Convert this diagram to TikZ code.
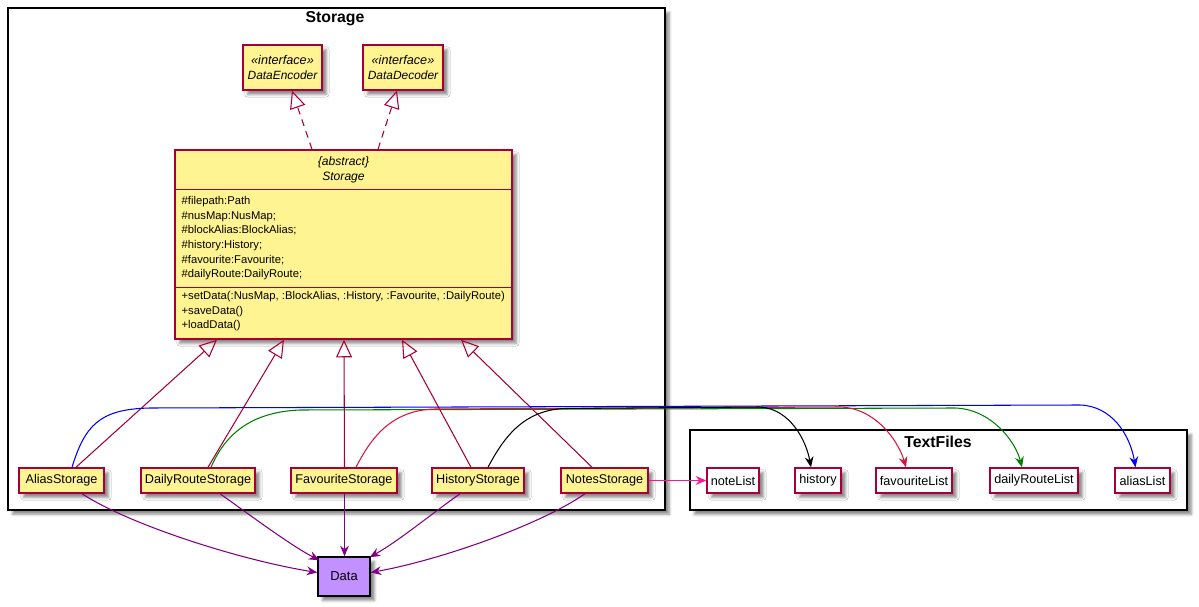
\documentclass[tikz,border=0pt]{standalone}
\usepackage{fontspec}
\setmainfont{Liberation Sans}
\usetikzlibrary{arrows.meta,calc,shadows.blur}

\definecolor{umlred}{HTML}{A80036}
\definecolor{umlyellow}{RGB}{255,244,145}
\definecolor{umlpurple}{HTML}{800080}
\definecolor{datafill}{RGB}{195,145,255}
\definecolor{notepink}{HTML}{FF1493}
\definecolor{favred}{HTML}{DC143C}
\definecolor{routegreen}{HTML}{008000}

\begin{document}
\begin{tikzpicture}[x=0.02cm, y=-0.02cm,
    umlshadow/.style={blur shadow={shadow xshift=2.5pt, shadow yshift=-2.5pt, shadow blur radius=1.5pt, shadow blur steps=4, shadow opacity=45}},
    classbox/.style={draw=umlred, line width=0.85pt, fill=umlyellow, umlshadow, inner sep=0pt, font=\fontsize{7.2}{8.4}\selectfont},
    filebox/.style={classbox, fill=white},
    ifacebox/.style={classbox, align=center, font=\fontsize{6.8}{8.6}\selectfont\itshape},
    membertext/.style={anchor=north west, inner sep=0pt, align=left, font=\fontsize{6.4}{8.3}\selectfont},
    frame/.style={draw=black, line width=0.9pt, fill=white, umlshadow},
    frametitle/.style={font=\fontsize{9}{10}\selectfont\bfseries},
    extends/.style={draw=umlred, line width=0.6pt, -{Triangle[open, length=10pt, width=9pt]}},
    implements/.style={extends, dash pattern=on 4pt off 3pt},
    uses/.style={draw=umlpurple, line width=0.6pt, -{Stealth[length=6pt, width=5pt, inset=2pt]}},
    writes/.style={line width=0.6pt, -{Stealth[length=6pt, width=5pt, inset=2pt]}},
]
\useasboundingbox (0,0) rectangle (1199,607);

% Packages
\node[frame, minimum width=13.14cm, minimum height=10.04cm] (storagepkg) at (336.5,259) {};
\node[frametitle] (storagetitle) at (335,19) {Storage};
\node[frame, minimum width=9.94cm, minimum height=1.6cm] (textpkg) at (938.5,470) {};
\node[frametitle] (texttitle) at (938,442) {TextFiles};

% Interfaces
\node[ifacebox, minimum width=1.58cm, minimum height=0.9cm] (encoder) at (282.5,67.5) {{\fontsize{7.2}{8}\selectfont «interface»}\\DataEncoder};
\node[ifacebox, minimum width=1.6cm, minimum height=0.9cm] (decoder) at (403,67.5) {{\fontsize{7.2}{8}\selectfont «interface»}\\DataDecoder};

% Abstract class
\node[classbox, minimum width=6.74cm, minimum height=3.78cm] (storage) at (343.5,244.5) {};
\node[align=center, font=\fontsize{6.9}{8.8}\selectfont\itshape] (storagename) at (343.5,170) {\{abstract\}\\Storage};
\draw[umlred, line width=0.85pt] ($(storage.north west)+(0,40)$) -- ($(storage.north east)+(0,40)$);
\draw[umlred, line width=0.85pt] ($(storage.north west)+(0,138)$) -- ($(storage.north east)+(0,138)$);
\node[membertext] (storageattrs) at ($(storage.north west)+(7,47)$) {\#filepath:Path\\\#nusMap:NusMap;\\\#blockAlias:BlockAlias;\\\#history:History;\\\#favourite:Favourite;\\\#dailyRoute:DailyRoute;};
\node[membertext] (storageops) at ($(storage.north west)+(7,142)$) {+setData(:NusMap, :BlockAlias, :History, :Favourite, :DailyRoute)\\+saveData()\\+loadData()};

% Concrete storages
\node[classbox, minimum width=1.70cm, minimum height=0.5cm] (alias) at (61.5,480.5) {AliasStorage};
\node[classbox, minimum width=2.28cm, minimum height=0.5cm] (dailyroute) at (198,480.5) {DailyRouteStorage};
\node[classbox, minimum width=2.12cm, minimum height=0.5cm] (favourite) at (344,480.5) {FavouriteStorage};
\node[classbox, minimum width=1.84cm, minimum height=0.5cm] (history) at (478,480.5) {HistoryStorage};
\node[classbox, minimum width=1.74cm, minimum height=0.5cm] (notes) at (604.5,480.5) {NotesStorage};

% Text files
\node[filebox, minimum width=1.04cm, minimum height=0.5cm] (notelist) at (733,480.5) {noteList};
\node[filebox, minimum width=0.92cm, minimum height=0.5cm] (historyfile) at (818,480.5) {history};
\node[filebox, minimum width=1.52cm, minimum height=0.5cm] (favouritelist) at (914,480.5) {favouriteList};
\node[filebox, minimum width=1.76cm, minimum height=0.5cm] (dailyroutelist) at (1034,480.5) {dailyRouteList};
\node[filebox, minimum width=1.10cm, minimum height=0.5cm] (aliaslist) at (1142.5,480.5) {aliasList};

\node[classbox, fill=datafill, draw=black, minimum width=1.04cm, minimum height=0.78cm, font=\fontsize{7.4}{9}\selectfont] (data) at (344,576.5) {Data};

% Realisation
\draw[implements] ($(storage.north)+(-31.5,0)$) -- ($(encoder.south)+(9.5,0)$);
\draw[implements] ($(storage.north)+(34.5,0)$) -- ($(decoder.south)+(-6,0)$);

% Inheritance
\draw[extends] ($(alias.north)+(14.5,0)$) -- ($(storage.south)+(-126.5,0)$);
\draw[extends] ($(dailyroute.north)+(10,0)$) -- ($(storage.south)+(-59.5,0)$);
\draw[extends] ($(favourite.north)+(0.5,0)$) -- ($(storage.south)+(0.5,0)$);
\draw[extends] ($(history.north)+(-7,0)$) -- ($(storage.south)+(58.5,0)$);
\draw[extends] ($(notes.north)+(-12.5,0)$) -- ($(storage.south)+(117.5,0)$);

% Storages to text files
\draw[writes, blue] ($(alias.north)+(10.5,0)$) .. controls (85,425) and (100,409) .. (150,408) -- (1080,405) .. controls (1112,406) and (1130,435) .. ($(aliaslist.north)+(-7,0)$);
\draw[writes, routegreen] ($(dailyroute.north)+(13,0)$) .. controls (225,435) and (250,412) .. (300,410) -- (955,408) .. controls (990,409) and (1015,440) .. ($(dailyroutelist.north)+(-12,0)$);
\draw[writes, favred] ($(favourite.north)+(12,0)$) .. controls (370,440) and (390,410) .. (435,409) -- (840,407) .. controls (875,408) and (898,440) .. ($(favouritelist.north)+(-8,0)$);
\draw[writes, black] ($(history.north)+(10,0)$) .. controls (505,435) and (525,410) .. (565,408.5) -- (760,407) .. controls (790,409) and (806,440) .. ($(historyfile.north)+(-7,0)$);
\draw[writes, notepink] (notes.east) -- (notelist.west);

% Storages to data
\draw[uses] ($(alias.south)+(20.5,0)$) .. controls (130,525) and (240,560) .. ($(data.west)+(0,-4)$);
\draw[uses] ($(dailyroute.south)+(22,0)$) .. controls (250,515) and (290,545) .. ($(data.north west)+(2,4)$);
\draw[uses] ($(favourite.south)+(0.5,0)$) -- ($(data.north)+(0.5,0)$);
\draw[uses] ($(history.south)+(-18,0)$) .. controls (430,515) and (400,540) .. ($(data.north east)+(-1,1)$);
\draw[uses] ($(notes.south)+(-19.5,0)$) .. controls (540,525) and (440,560) .. ($(data.east)+(0,-4)$);
\end{tikzpicture}
\end{document}
